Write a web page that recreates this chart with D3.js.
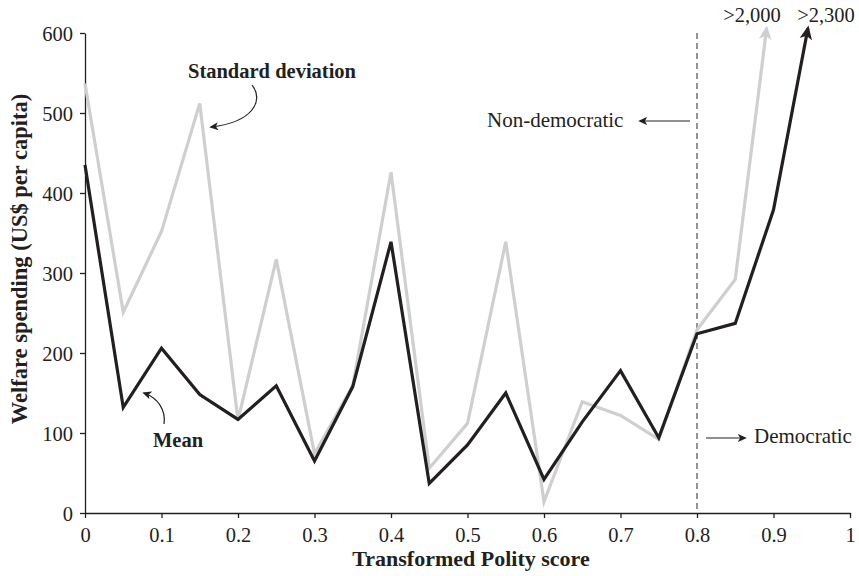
<!DOCTYPE html>
<html>
<head>
<meta charset="utf-8">
<style>
  body { margin: 0; background: #fff; }
  svg text { font-family: "Liberation Serif", "Times New Roman", serif; fill: #231f20; }
</style>
</head>
<body>
<script src="https://cdn.jsdelivr.net/npm/d3@7"></script>
<script>
// polity score points (0 .. 0.9), then the clipped end point of each line
var scores = [0, 0.05, 0.1, 0.15, 0.2, 0.25, 0.3, 0.35, 0.4, 0.45, 0.5, 0.55, 0.6, 0.65, 0.7, 0.75, 0.8, 0.85, 0.9];
var meanVals = [435, 132, 206, 148, 117, 159, 65, 158, 339, 37, 85, 150, 42, 114, 178, 94, 224, 237, 379];
var sdVals = [537, 251, 352, 512, 116, 317, 74, 159, 426, 56, 112, 339, 14, 139, 122, 92, 229, 292];
var meanEnd = [0.945, 606];   // >2,300, truncated
var sdEnd = [0.891, 606];     // >2,000, truncated
var xTicks = [0, 0.1, 0.2, 0.3, 0.4, 0.5, 0.6, 0.7, 0.8, 0.9, 1];
var yTicks = [0, 100, 200, 300, 400, 500, 600];
var cutoff = 0.8;

var w = 859, h = 576;
var svg = d3.select("body").append("svg").attr("width", w).attr("height", h);

var x = d3.scaleLinear().domain([0, 1]).range([85, 850]);
var y = d3.scaleLinear().domain([0, 600]).range([513, 33]);

var defs = svg.append("defs");
function marker(id, color, size) {
  defs.append("marker").attr("id", id)
    .attr("viewBox", "0 0 10 10").attr("refX", 8).attr("refY", 5)
    .attr("markerWidth", size).attr("markerHeight", size)
    .attr("markerUnits", "userSpaceOnUse")
    .attr("orient", "auto")
    .append("path").attr("d", "M0,0.5 L10,5 L0,9.5 L2.5,5 Z").attr("fill", color);
}
marker("headBlack", "#231f20", 14);
marker("headGrey", "#cfcfcf", 14);
marker("headSmall", "#231f20", 9);

// axes
var yAxis = d3.axisLeft(y).tickValues(yTicks).tickSize(5).tickSizeOuter(0);
var xAxis = d3.axisBottom(x).tickValues(xTicks).tickSize(5).tickSizeOuter(0)
  .tickFormat(function(d) { return d === 0 || d === 1 ? d : d3.format(".1f")(d); });

var gy = svg.append("g").attr("transform", "translate(85,0)").call(yAxis);
var gx = svg.append("g").attr("transform", "translate(0,513)").call(xAxis);
[gx, gy].forEach(function(g) {
  g.select(".domain").attr("stroke", "#231f20").attr("stroke-width", 1.3);
  g.selectAll(".tick line").attr("stroke", "#231f20").attr("stroke-width", 1.3);
  g.selectAll(".tick text").attr("font-size", 20.5).attr("fill", "#231f20")
    .style("font-family", "Liberation Serif");
});
gy.selectAll(".tick text").attr("x", -12).attr("dy", "0.35em");
gx.selectAll(".tick text").attr("y", 14);

// dashed cut-off line
svg.append("line")
  .attr("x1", x(cutoff)).attr("x2", x(cutoff))
  .attr("y1", y(600)).attr("y2", y(0))
  .attr("stroke", "#4d4d4d").attr("stroke-width", 1.2)
  .attr("stroke-dasharray", "6,4");

var line = d3.line().x(function(d) { return x(d[0]); }).y(function(d) { return y(d[1]); });

var sdPts = sdVals.map(function(v, i) { return [scores[i], v]; });
sdPts.push(sdEnd);
var meanPts = meanVals.map(function(v, i) { return [scores[i], v]; });
meanPts.push(meanEnd);

svg.append("path").datum(sdPts).attr("d", line)
  .attr("fill", "none").attr("stroke", "#cfcfcf").attr("stroke-width", 3.2)
  .attr("stroke-linejoin", "miter").attr("marker-end", "url(#headGrey)");
svg.append("path").datum(meanPts).attr("d", line)
  .attr("fill", "none").attr("stroke", "#231f20").attr("stroke-width", 3.2)
  .attr("stroke-linejoin", "miter").attr("marker-end", "url(#headBlack)");

// labels
svg.append("text").attr("x", 272).attr("y", 78).attr("text-anchor", "middle")
  .attr("font-size", 20.5).attr("font-weight", "bold").text("Standard deviation");
svg.append("path").attr("d", "M252,85 C264,100 254,122 211,127")
  .attr("fill", "none").attr("stroke", "#231f20").attr("stroke-width", 1.2)
  .attr("marker-end", "url(#headSmall)");

svg.append("text").attr("x", 178).attr("y", 447).attr("text-anchor", "middle")
  .attr("font-size", 20.5).attr("font-weight", "bold").text("Mean");
svg.append("path").attr("d", "M164,424 C166,410 158,398 144,393")
  .attr("fill", "none").attr("stroke", "#231f20").attr("stroke-width", 1.2)
  .attr("marker-end", "url(#headSmall)");

svg.append("text").attr("x", 487).attr("y", 127).attr("font-size", 21).text("Non-democratic");
svg.append("line").attr("x1", 690).attr("x2", 640).attr("y1", 121).attr("y2", 121)
  .attr("stroke", "#231f20").attr("stroke-width", 1.2).attr("marker-end", "url(#headSmall)");

svg.append("text").attr("x", 754).attr("y", 443).attr("font-size", 21).text("Democratic");
svg.append("line").attr("x1", 706).attr("x2", 745).attr("y1", 438).attr("y2", 438)
  .attr("stroke", "#231f20").attr("stroke-width", 1.2).attr("marker-end", "url(#headSmall)");

svg.append("text").attr("x", 752).attr("y", 22).attr("text-anchor", "middle")
  .attr("font-size", 20.5).text(">2,000");
svg.append("text").attr("x", 826).attr("y", 22).attr("text-anchor", "middle")
  .attr("font-size", 20.5).text(">2,300");

// axis titles
svg.append("text").attr("x", 471).attr("y", 566).attr("text-anchor", "middle")
  .attr("font-size", 22).attr("font-weight", "bold").text("Transformed Polity score");
svg.append("text").attr("transform", "translate(27,259) rotate(-90)").attr("text-anchor", "middle")
  .attr("font-size", 22.5).attr("font-weight", "bold").text("Welfare spending (US$ per capita)");
</script>
</body>
</html>
